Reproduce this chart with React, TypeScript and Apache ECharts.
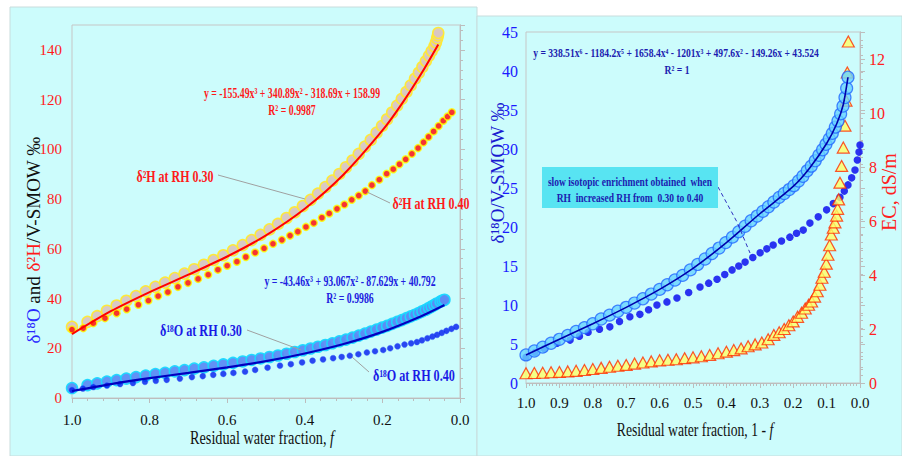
import React, { useEffect, useRef } from "react";
import * as echarts from "echarts";

const SERIF = '"Liberation Serif", "Times New Roman", serif';

// ---------- Left panel data (x = residual water fraction f) ----------
const lh30F = [1.0, 0.96, 0.935, 0.91, 0.885, 0.86, 0.835, 0.81, 0.785, 0.76, 0.735, 0.71, 0.685, 0.66, 0.635, 0.61, 0.585, 0.56, 0.537, 0.514, 0.491, 0.469, 0.447, 0.426, 0.405, 0.385, 0.366, 0.347, 0.329, 0.311, 0.294, 0.277, 0.261, 0.245, 0.23, 0.215, 0.201, 0.188, 0.175, 0.162, 0.15, 0.138, 0.127, 0.116, 0.106, 0.097, 0.088, 0.08, 0.073, 0.066, 0.062, 0.059, 0.057, 0.056];
const lh30V = [28.6, 30.6, 32.9, 35.1, 37.2, 39.1, 41.0, 42.9, 44.7, 46.4, 48.2, 50.0, 51.8, 53.6, 55.5, 57.4, 59.4, 61.5, 63.5, 65.6, 67.8, 70.0, 72.4, 74.7, 77.2, 79.7, 82.2, 84.8, 87.4, 90.1, 92.8, 95.5, 98.2, 101.1, 103.8, 106.7, 109.4, 112.1, 114.8, 117.6, 120.3, 123.1, 125.7, 128.4, 130.8, 133.1, 135.5, 137.6, 139.5, 141.4, 143.0, 144.6, 145.8, 146.8];
const lhFitF = [1.0, 0.9, 0.8, 0.7, 0.6, 0.5, 0.4, 0.3, 0.2, 0.15, 0.1, 0.056];
const lhFitV = [25.7, 34.9, 42.6, 49.6, 56.9, 65.4, 76.1, 89.9, 107.6, 118.3, 130.4, 142.2];
const lh40F = [1.0, 0.971, 0.945, 0.915, 0.885, 0.859, 0.829, 0.803, 0.778, 0.753, 0.727, 0.701, 0.675, 0.649, 0.624, 0.6, 0.575, 0.552, 0.528, 0.505, 0.482, 0.459, 0.438, 0.418, 0.397, 0.377, 0.356, 0.337, 0.317, 0.298, 0.279, 0.261, 0.244, 0.227, 0.208, 0.189, 0.172, 0.156, 0.14, 0.124, 0.108, 0.094, 0.081, 0.068, 0.055, 0.043, 0.032, 0.021];
const lh40V = [27.5, 28.1, 30.1, 32.1, 34.1, 35.7, 37.5, 39.2, 41.0, 42.6, 44.7, 46.3, 47.9, 49.6, 51.6, 53.2, 54.8, 56.7, 58.5, 60.2, 62.0, 63.6, 65.3, 66.9, 68.8, 70.4, 72.5, 74.2, 76.1, 77.8, 79.7, 81.4, 83.2, 85.6, 87.8, 90.2, 92.0, 94.0, 96.0, 98.2, 100.5, 102.8, 105.0, 107.2, 109.4, 111.5, 113.2, 114.9];

const lo30F = [1.0, 0.96, 0.935, 0.91, 0.885, 0.86, 0.835, 0.81, 0.785, 0.76, 0.735, 0.71, 0.685, 0.66, 0.635, 0.61, 0.585, 0.56, 0.537, 0.514, 0.491, 0.469, 0.447, 0.426, 0.405, 0.385, 0.366, 0.347, 0.329, 0.311, 0.294, 0.277, 0.261, 0.245, 0.23, 0.215, 0.201, 0.188, 0.175, 0.162, 0.15, 0.138, 0.127, 0.116, 0.106, 0.097, 0.088, 0.08, 0.073, 0.066, 0.06, 0.05, 0.045, 0.04];
const lo30V = [4.0, 5.2, 5.9, 6.6, 7.2, 7.8, 8.4, 9.0, 9.6, 10.1, 10.7, 11.2, 11.8, 12.3, 12.9, 13.5, 14.1, 14.7, 15.3, 15.9, 16.5, 17.1, 17.8, 18.5, 19.2, 19.9, 20.6, 21.3, 22.0, 22.8, 23.5, 24.3, 25.1, 25.9, 26.7, 27.5, 28.3, 29.0, 29.8, 30.6, 31.3, 32.1, 32.8, 33.5, 34.2, 34.9, 35.5, 36.2, 36.8, 37.4, 38.0, 38.8, 39.2, 39.5];
const loFitF = [1.0, 0.9, 0.8, 0.7, 0.6, 0.5, 0.4, 0.3, 0.2, 0.1, 0.04];
const loFitV = [2.8, 5.6, 8.0, 10.1, 12.3, 14.8, 17.9, 21.7, 26.6, 32.9, 37.4];
const lo40F = [1.0, 0.972, 0.945, 0.91, 0.876, 0.843, 0.812, 0.784, 0.756, 0.722, 0.691, 0.663, 0.636, 0.61, 0.584, 0.554, 0.528, 0.496, 0.464, 0.436, 0.407, 0.38, 0.353, 0.327, 0.305, 0.284, 0.262, 0.24, 0.219, 0.198, 0.18, 0.161, 0.143, 0.126, 0.111, 0.098, 0.084, 0.071, 0.059, 0.047, 0.035, 0.022, 0.01];
const lo40V = [3.2, 3.8, 4.4, 5.0, 5.6, 6.0, 6.5, 6.9, 7.3, 7.8, 8.4, 8.8, 9.3, 9.7, 10.1, 10.6, 11.3, 12.2, 13.0, 13.6, 14.3, 15.0, 15.5, 16.0, 16.5, 17.0, 17.6, 18.3, 18.8, 19.3, 20.0, 20.8, 21.5, 22.0, 22.5, 23.2, 24.0, 24.7, 25.4, 26.2, 27.0, 27.8, 28.6];

// ---------- Right panel data ----------
const ro30F = [1.0, 0.975, 0.95, 0.925, 0.9, 0.875, 0.85, 0.825, 0.8, 0.775, 0.75, 0.725, 0.7, 0.675, 0.65, 0.625, 0.6, 0.577, 0.554, 0.531, 0.508, 0.486, 0.464, 0.443, 0.422, 0.402, 0.382, 0.363, 0.344, 0.326, 0.308, 0.291, 0.274, 0.258, 0.242, 0.227, 0.212, 0.198, 0.184, 0.171, 0.158, 0.146, 0.134, 0.123, 0.112, 0.102, 0.092, 0.083, 0.074, 0.066, 0.058, 0.051, 0.045, 0.04, 0.036];
const ro30V = [3.6, 4.1, 4.6, 5.1, 5.6, 6.1, 6.6, 7.1, 7.6, 8.2, 8.7, 9.2, 9.7, 10.25, 10.8, 11.4, 12.0, 12.6, 13.2, 13.8, 14.5, 15.2, 15.9, 16.6, 17.3, 18.0, 18.7, 19.4, 20.1, 20.8, 21.4, 22.0, 22.6, 23.2, 23.8, 24.3, 24.8, 25.3, 25.9, 26.5, 27.2, 27.8, 28.5, 29.2, 29.9, 30.6, 31.3, 32.0, 32.8, 33.6, 34.5, 35.5, 36.6, 37.8, 39.2];
const roFitF = [1.0, 0.9, 0.8, 0.7, 0.6, 0.5, 0.4, 0.3, 0.2, 0.15, 0.1, 0.07, 0.05, 0.036];
const roFitV = [3.6, 5.6, 7.6, 9.7, 12.0, 14.7, 18.0, 21.7, 25.2, 27.6, 30.7, 33.2, 35.7, 39.2];
const ro40F = [1.0, 0.973, 0.945, 0.907, 0.868, 0.84, 0.814, 0.78, 0.749, 0.72, 0.689, 0.659, 0.633, 0.608, 0.578, 0.548, 0.513, 0.479, 0.453, 0.428, 0.405, 0.383, 0.363, 0.344, 0.321, 0.299, 0.279, 0.26, 0.235, 0.21, 0.19, 0.17, 0.15, 0.125, 0.1, 0.08, 0.06, 0.047, 0.036, 0.025, 0.015, 0.008, 0.003, 0.0];
const ro40V = [3.3, 3.9, 4.4, 5.1, 5.5, 6.0, 6.5, 6.9, 7.2, 7.9, 8.5, 8.8, 9.4, 10.0, 10.4, 10.9, 11.6, 12.3, 12.8, 13.3, 13.9, 14.5, 15.0, 15.5, 16.1, 16.7, 17.2, 17.7, 18.2, 18.7, 19.2, 19.6, 20.5, 21.3, 22.2, 23.0, 23.8, 24.6, 25.4, 26.3, 27.3, 28.6, 29.6, 30.5];
const ecF = [1.0, 0.975, 0.95, 0.925, 0.9, 0.875, 0.85, 0.825, 0.8, 0.775, 0.75, 0.725, 0.7, 0.675, 0.65, 0.625, 0.6, 0.575, 0.55, 0.525, 0.5, 0.475, 0.45, 0.425, 0.4, 0.378, 0.356, 0.335, 0.314, 0.294, 0.275, 0.258, 0.242, 0.227, 0.213, 0.2, 0.187, 0.175, 0.164, 0.154, 0.145, 0.136, 0.128, 0.12, 0.114, 0.107, 0.101, 0.096, 0.091, 0.086, 0.08, 0.075, 0.07, 0.067, 0.064, 0.06, 0.055, 0.05, 0.045, 0.042, 0.038, 0.035];
const ecV = [0.36, 0.37, 0.38, 0.4, 0.41, 0.43, 0.45, 0.48, 0.52, 0.56, 0.6, 0.64, 0.67, 0.72, 0.76, 0.8, 0.84, 0.86, 0.88, 0.92, 0.95, 0.99, 1.04, 1.1, 1.16, 1.22, 1.28, 1.36, 1.43, 1.5, 1.62, 1.78, 1.88, 2.0, 2.14, 2.28, 2.45, 2.6, 2.76, 2.9, 3.02, 3.2, 3.4, 3.64, 3.9, 4.12, 4.42, 4.75, 5.1, 5.5, 5.75, 5.95, 6.2, 6.45, 6.8, 7.42, 8.04, 8.72, 9.53, 10.46, 11.5, 12.65];

// tick label values
const leftXTicks = [1.0, 0.8, 0.6, 0.4, 0.2, 0.0];
const rightXTicks = [1.0, 0.9, 0.8, 0.7, 0.6, 0.5, 0.4, 0.3, 0.2, 0.1, 0.0];

const pairs = (xs: number[], ys: number[]) => xs.map((x, i) => [x, ys[i]]);

const AX = "#bdbdbd";

function txt(x: number, y: number, text: string, size: number, fill: string, opts: any = {}) {
  return {
    type: "text",
    x,
    y,
    scaleX: opts.scaleX ?? 1,
    rotation: opts.rotation ?? 0,
    z: 50,
    style: {
      text,
      fill,
      fontFamily: SERIF,
      fontSize: size,
      fontWeight: opts.bold ? "bold" : "normal",
      textAlign: "center",
      align: "center",
      textVerticalAlign: "middle",
      verticalAlign: "middle",
      rich: opts.rich,
    },
  };
}

function leader(x1: number, y1: number, x2: number, y2: number) {
  return { type: "line", z: 40, shape: { x1, y1, x2, y2 }, style: { stroke: "#a0a0a0", lineWidth: 1 } };
}

export default function App() {
  const ref = useRef<HTMLDivElement>(null);
  useEffect(() => {
    if (!ref.current) return;
    const chart = echarts.init(ref.current, undefined, { renderer: "svg" });

    const xAxisBase = (grid: number, interval: number, split: number, margin: number, ticks: number[]) => ({
      type: "value",
      gridIndex: grid,
      min: 0,
      max: 1,
      interval,
      inverse: true,
      axisLine: { show: true, lineStyle: { color: AX } },
      axisTick: { show: true, length: 5, lineStyle: { color: AX } },
      minorTick: { show: true, splitNumber: split, length: 3, lineStyle: { color: AX } },
      splitLine: { show: false },
      axisLabel: {
        margin,
        color: "#111",
        fontFamily: SERIF,
        fontSize: 15,
        formatter: (v: number) => {
          const hit = ticks.find((t) => Math.abs(t - v) < 1e-6);
          return hit === undefined ? "" : hit.toFixed(1);
        },
      },
    });

    const option: any = {
      animation: false,
      grid: [
        { left: 72, right: 442, top: 25, bottom: 58, show: true, borderColor: "#c6c6c6", borderWidth: 1, backgroundColor: "transparent" },
        { left: 526, right: 42, top: 32, bottom: 73, show: true, borderColor: "#c6c6c6", borderWidth: 1, backgroundColor: "transparent" },
      ],
      xAxis: [xAxisBase(0, 0.2, 5, 14, leftXTicks), xAxisBase(1, 0.1, 10, 12, rightXTicks)],
      yAxis: [
        {
          type: "value",
          gridIndex: 0,
          min: 0,
          max: 150,
          interval: 20,
          position: "left",
          axisLine: { show: true, lineStyle: { color: AX } },
          axisTick: { show: false },
          splitLine: { show: false },
          axisLabel: {
            margin: 10,
            color: "#ff1a1a",
            fontFamily: SERIF,
            fontSize: 15,
            formatter: (v: number) => (v % 20 === 0 ? String(v) : ""),
          },
        },
        {
          type: "value",
          gridIndex: 0,
          min: 0,
          max: 150,
          interval: 20,
          position: "right",
          axisLine: { show: true, lineStyle: { color: AX } },
          axisTick: { show: true, length: 5, lineStyle: { color: AX } },
          minorTick: { show: true, splitNumber: 5, length: 3, lineStyle: { color: AX } },
          splitLine: { show: false },
          axisLabel: { show: false },
        },
        {
          type: "value",
          gridIndex: 1,
          min: 0,
          max: 45,
          interval: 5,
          position: "left",
          axisLine: { show: true, lineStyle: { color: AX } },
          axisTick: { show: true, inside: true, length: 5, lineStyle: { color: AX } },
          minorTick: { show: true, splitNumber: 5, length: 3, lineStyle: { color: AX } },
          splitLine: { show: false },
          axisLabel: { margin: 8, color: "#1a1aff", fontFamily: SERIF, fontSize: 16 },
        },
        {
          type: "value",
          gridIndex: 1,
          min: 0,
          max: 13,
          interval: 2,
          position: "right",
          axisLine: { show: true, lineStyle: { color: AX } },
          axisTick: { show: true, length: 5, lineStyle: { color: AX } },
          minorTick: { show: true, splitNumber: 4, length: 3, lineStyle: { color: AX } },
          splitLine: { show: false },
          axisLabel: {
            margin: 9,
            color: "#ff2020",
            fontFamily: SERIF,
            fontSize: 16,
            formatter: (v: number) => (v % 2 === 0 ? String(v) : ""),
          },
        },
      ],
      series: [
        // ---- left panel ----
        {
          type: "scatter", xAxisIndex: 0, yAxisIndex: 0, z: 3,
          data: pairs(lh30F, lh30V), symbol: "circle", symbolSize: 11,
          itemStyle: { color: "#d9c6c2", borderColor: "#ffe933", borderWidth: 1.5, opacity: 0.95 },
        },
        {
          type: "scatter", xAxisIndex: 0, yAxisIndex: 0, z: 4,
          data: pairs(lh40F, lh40V), symbol: "circle", symbolSize: 7,
          itemStyle: { color: "#ff0000", borderColor: "#ffff00", borderWidth: 1.5 },
        },
        {
          type: "line", xAxisIndex: 0, yAxisIndex: 0, z: 5,
          data: pairs(lhFitF, lhFitV), showSymbol: false, smooth: 0.3,
          lineStyle: { color: "#ff0000", width: 2 },
        },
        {
          type: "scatter", xAxisIndex: 0, yAxisIndex: 0, z: 3,
          data: pairs(lo30F, lo30V), symbol: "circle", symbolSize: 11,
          itemStyle: { color: "#5b8cf6", borderColor: "#1ad8ff", borderWidth: 1.5, opacity: 0.95 },
        },
        {
          type: "scatter", xAxisIndex: 0, yAxisIndex: 0, z: 4,
          data: pairs(lo40F, lo40V), symbol: "circle", symbolSize: 6,
          itemStyle: { color: "#0018ee", borderColor: "#3a6aff", borderWidth: 0.5 },
        },
        {
          type: "line", xAxisIndex: 0, yAxisIndex: 0, z: 5,
          data: pairs(loFitF, loFitV), showSymbol: false, smooth: 0.3,
          lineStyle: { color: "#0000c0", width: 2.2 },
        },
        // ---- right panel ----
        {
          type: "scatter", xAxisIndex: 1, yAxisIndex: 2, z: 2,
          data: pairs(ro40F, ro40V), symbol: "circle", symbolSize: 7.5,
          itemStyle: { color: "#0000ee" },
        },
        {
          type: "scatter", xAxisIndex: 1, yAxisIndex: 3, z: 3,
          data: pairs(ecF, ecV), symbol: "triangle", symbolSize: [12, 11],
          itemStyle: { color: "#ffff66", borderColor: "#ff2a00", borderWidth: 1.2 },
        },
        {
          type: "scatter", xAxisIndex: 1, yAxisIndex: 2, z: 4,
          data: pairs(ro30F, ro30V), symbol: "circle", symbolSize: 12,
          itemStyle: { color: "#66d2ff", borderColor: "#2266ff", borderWidth: 1.2 },
        },
        {
          type: "line", xAxisIndex: 1, yAxisIndex: 2, z: 5,
          data: pairs(roFitF, roFitV), showSymbol: false, smooth: 0.3,
          lineStyle: { color: "#0000aa", width: 1.6 },
        },
      ],
      graphic: [
        { type: "rect", z: -100, shape: { x: 10, y: 7, width: 467, height: 449 }, style: { fill: "#ccfcfc", stroke: "#c8dcdc", lineWidth: 1 } },
        { type: "rect", z: -100, shape: { x: 477, y: 16, width: 425, height: 440 }, style: { fill: "#ccfcfc", stroke: "#c8dcdc", lineWidth: 1 } },
        // left panel annotations
        txt(292, 93, "y = -155.49x³ + 340.89x² - 318.69x + 158.99", 14, "#ff1a1a", { bold: true, scaleX: 0.7 }),
        txt(292, 110, "R² = 0.9987", 14, "#ff1a1a", { bold: true, scaleX: 0.7 }),
        txt(175, 176, "δ²H at RH 0.30", 16, "#ff1a1a", { bold: true, scaleX: 0.75 }),
        leader(218, 175, 305, 199),
        txt(431, 203, "δ²H at RH 0.40", 16, "#ff1a1a", { bold: true, scaleX: 0.75 }),
        leader(367, 192, 390, 203),
        txt(350, 281, "y = -43.46x³ + 93.067x² - 87.629x + 40.792", 14, "#2020e0", { bold: true, scaleX: 0.7 }),
        txt(350, 298, "R² = 0.9986", 14, "#2020e0", { bold: true, scaleX: 0.7 }),
        txt(201, 330, "δ¹⁸O at RH 0.30", 16, "#1a1ae6", { bold: true, scaleX: 0.76 }),
        leader(247, 330, 301, 350),
        txt(414, 375, "δ¹⁸O at RH 0.40", 16, "#1a1ae6", { bold: true, scaleX: 0.76 }),
        leader(352, 357, 369, 372),
        // left axis names
        txt(262, 438, "Residual water fraction, {i|f}", 19, "#111", {
          scaleX: 0.75,
          rich: { i: { fontStyle: "italic", fontFamily: SERIF, fontSize: 19, fill: "#111" } },
        }),
        txt(33, 240, "{b|δ¹⁸O} and {r|δ²H}/V-SMOW ‰", 19, "#111", {
          rotation: Math.PI / 2,
          rich: {
            b: { fill: "#2a2aff", fontFamily: SERIF, fontSize: 19 },
            r: { fill: "#ff1a1a", fontFamily: SERIF, fontSize: 19 },
          },
        }),
        // right panel annotations
        txt(676, 52, "y = 338.51x⁶ - 1184.2x⁵ + 1658.4x⁴ - 1201x³ + 497.6x² - 149.26x + 43.524", 13, "#1c1cb0", { bold: true, scaleX: 0.74 }),
        txt(677, 69, "R² = 1", 13, "#1c1cb0", { bold: true, scaleX: 0.74 }),
        { type: "rect", z: 45, shape: { x: 542, y: 167, width: 176, height: 41 }, style: { fill: "#58e4f2" } },
        txt(630, 181, "slow isotopic enrichment obtained  when", 13, "#1c1cb0", { bold: true, scaleX: 0.73 }),
        txt(630, 197, "RH  increased RH from  0.30 to 0.40", 13, "#1c1cb0", { bold: true, scaleX: 0.73 }),
        {
          type: "polyline", z: 40,
          shape: { points: [[718, 187], [737, 222], [750, 253]] },
          style: { stroke: "#3030c0", lineWidth: 1, lineDash: [4, 3], fill: null },
        },
        txt(695, 430, "Residual water fraction, 1 - {i|f}", 19, "#111", {
          scaleX: 0.72,
          rich: { i: { fontStyle: "italic", fontFamily: SERIF, fontSize: 19, fill: "#111" } },
        }),
        txt(497, 173, "δ¹⁸O/V-SMOW ‰", 19, "#1a1ad0", { rotation: Math.PI / 2 }),
        txt(889, 192, "EC, dS/m", 20, "#ff2020", { rotation: Math.PI / 2 }),
      ],
    };

    chart.setOption(option);
    return () => chart.dispose();
  }, []);

  return (
    <div
      ref={ref}
      style={{ position: "fixed", left: 0, top: 0, width: 902, height: 456, background: "#ffffff" }}
    />
  );
}
